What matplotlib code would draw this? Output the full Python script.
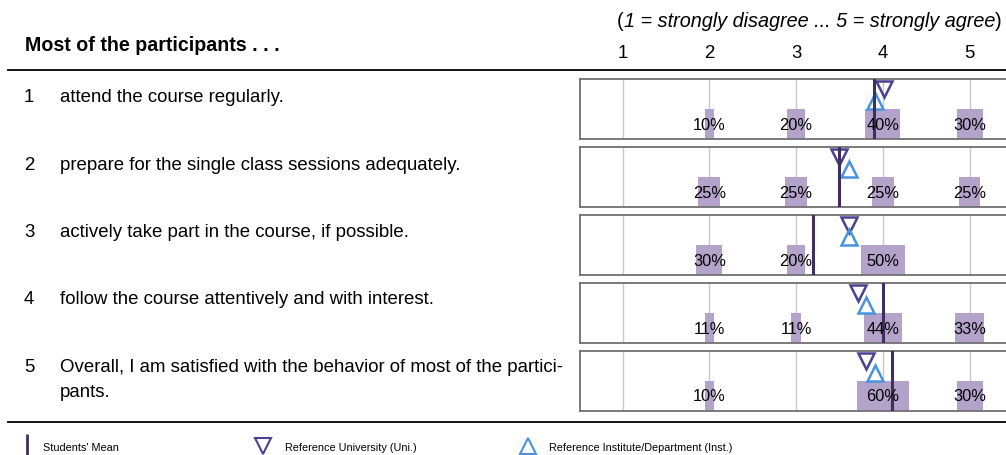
import matplotlib
matplotlib.use("Agg")
import matplotlib.pyplot as plt
from matplotlib.lines import Line2D

plt.rcParams['font.family'] = ['Liberation Sans', 'DejaVu Sans']

# donnees
items = ["attend the course regularly.",
         "prepare for the single class sessions adequately.",
         "actively take part in the course, if possible.",
         "follow the course attentively and with interest.",
         "Overall, I am satisfied with the behavior of most of the partici-\npants."]
scores = [1, 2, 3, 4, 5]
pct1 = [0, 10, 20, 40, 30]
pct2 = [0, 25, 25, 25, 25]
pct3 = [0, 30, 20, 50, 0]
pct4 = [0, 11, 11, 44, 33]
pct5 = [0, 10, 0, 60, 30]
means = [3.9, 3.5, 3.2, 4.0, 4.1]
uni = [4.01, 3.50, 3.61, 3.71, 3.81]
inst = [3.91, 3.61, 3.61, 3.81, 3.91]
pcts = [pct1, pct2, pct3, pct4, pct5]

W, H = 1006, 456
c_bar = "#b3a3ca"
c_mean = "#3d2f5e"
c_uni = "#4a4290"
c_inst = "#4a93dc"

fig = plt.figure(figsize=(W/100, H/100), dpi=100)

def fy(py):
    return 1 - py/H

axes = []
for i in range(5):
    top = 80 + 68*i
    ax = fig.add_axes([580/W, fy(top+60), 433/W, 60/H])
    ax.set_xlim(0.51, 5.5)
    ax.set_ylim(0, 1)
    for s in scores:
        ax.axvline(s, color="#c8c8c8", lw=1, zorder=0)
    ax.bar(scores, [0.5]*5, width=[p/100 for p in pcts[i]], bottom=0,
           color=c_bar, zorder=1)
    for s, p in zip(scores, pcts[i]):
        if p > 0:
            ax.text(s, 0.25, "{}%".format(p), ha="center", va="center",
                    fontsize=11.8, zorder=5)
    ax.plot(uni[i], 0.83, marker="v", ms=11, mfc="none", mec=c_uni, mew=1.8,
            zorder=3, clip_on=False)
    ax.plot(inst[i], 0.64, marker="^", ms=11, mfc="none", mec=c_inst, mew=1.8,
            zorder=3, clip_on=False)
    ax.axvline(means[i], color=c_mean, lw=2.2, zorder=4)
    for sp in ax.spines.values():
        sp.set_color("#707070")
        sp.set_linewidth(1.3)
    ax.set_yticks([])
    if i == 0:
        ax.set_xticks(scores)
        ax.tick_params(axis="x", top=True, labeltop=True, bottom=False,
                       labelbottom=False, length=0, pad=13, labelsize=13.4)
    else:
        ax.set_xticks([])
    axes.append(ax)

    # libelles a gauche (va=baseline -> derniere ligne)
    base = 102 + 67.5*i
    nl = items[i].count("\n")
    fig.text(24/W, fy(base), str(i+1), fontsize=13.4, va="baseline")
    fig.text(60/W, fy(base + 25*nl), items[i], fontsize=13.4, va="baseline",
             linespacing=1.6)

# entete
fig.text(25/W, fy(51), "Most of the participants . . .", fontsize=14.1,
         fontweight="bold", va="baseline")
t1 = fig.text(617/W, fy(27), "(", fontsize=14.3, va="baseline")
t2 = axes[0].annotate("1 = strongly disagree ... 5 = strongly agree", xy=(1, 0),
                      xycoords=t1, va="bottom", fontsize=14.3, style="italic")
axes[0].annotate(")", xy=(1, 0), xycoords=t2, va="bottom", fontsize=14.3)

# lignes horizontales
fig.add_artist(Line2D([8/W, 1], [fy(71), fy(71)], color="black", lw=1.3))
fig.add_artist(Line2D([8/W, 1], [fy(423), fy(423)], color="black", lw=1.3))

# legende
h_mean = Line2D([], [], ls="none", marker="|", ms=17, mew=2, color=c_mean)
h_uni = Line2D([], [], ls="none", marker="v", ms=11, mfc="none", mec=c_uni, mew=1.5)
h_inst = Line2D([], [], ls="none", marker="^", ms=11, mfc="none", mec=c_inst, mew=1.5)
for h, lab, x, pad in [(h_mean, "Students' Mean", 21, 0.93),
                       (h_uni, "Reference University (Uni.)", 257, 1.49),
                       (h_inst, "Reference Institute/Department (Inst.)", 522, 1.39)]:
    fig.legend(handles=[h], labels=[lab], loc="center left",
               bbox_to_anchor=(x/W, fy(448)), frameon=False, fontsize=7.8,
               borderpad=0, borderaxespad=0, handlelength=1.1,
               handletextpad=pad)

fig.savefig("out.png", dpi=100)
